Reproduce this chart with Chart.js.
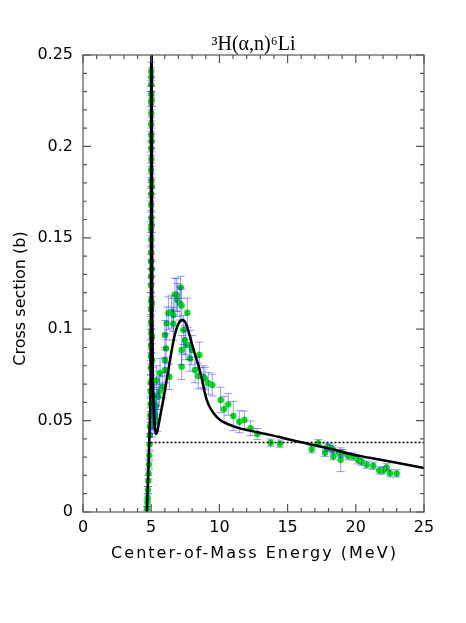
<!DOCTYPE html>
<html>
<head>
<meta charset="utf-8">
<script src="https://cdn.jsdelivr.net/npm/chart.js@4.4.1/dist/chart.umd.min.js"></script>
<style>
  html, body { margin: 0; padding: 0; background: #fff; }
  #wrap { width: 466px; height: 623px; }
</style>
</head>
<body>
<div id="wrap"><canvas id="chartCross"></canvas></div>
<script>
// tick values and labels
const xTicks = [0, 5, 10, 15, 20, 25];
const xTickLabels = ['0', '5', '10', '15', '20', '25'];
const yTicks = [0, 0.05, 0.1, 0.15, 0.2, 0.25];
const yTickLabels = ['0', '0.05', '0.1', '0.15', '0.2', '0.25'];

// measured cross sections: energy (MeV), sigma (b), error (b)
const measE = [
  4.70, 4.72, 4.74, 4.76, 4.79, 4.81, 4.83, 4.86, 4.88, 4.90, 4.92, 4.93, 4.95, 4.96, 4.97,
  4.97, 4.98, 4.98, 4.99, 4.98, 4.99, 5.00, 4.99, 5.00, 4.99, 5.00, 5.00, 4.99, 5.01, 5.00,
  5.00, 5.01, 5.00, 5.01, 5.00, 5.01, 5.00, 5.01, 5.00, 5.01, 5.00, 5.01, 5.00,
  5.03, 5.03, 5.04, 5.03, 5.04, 5.05, 5.06, 5.07, 5.08, 5.10, 5.12, 5.15, 5.18, 5.22,
  5.05, 5.10, 5.14, 5.20, 5.25, 5.30, 5.35, 5.40, 5.45, 5.52, 5.60, 5.65,
  5.84, 6.01, 6.01, 6.09, 6.01, 6.13, 6.33, 6.26, 6.50, 6.62, 6.62, 6.74, 6.87, 6.92, 7.11,
  7.16, 7.23, 7.36, 7.48, 7.23, 7.23, 7.55, 7.65, 7.84, 7.84, 7.97, 8.21, 8.45, 8.53, 8.82,
  8.94, 9.19, 9.48, 10.09, 10.34, 10.65, 11.02, 11.46, 11.83, 12.29, 12.78, 13.76, 14.44,
  16.77, 17.25, 17.74, 17.91, 18.10, 18.31, 18.35, 18.79, 18.89, 19.04, 19.45, 19.82, 20.18,
  20.43, 20.80, 21.28, 21.72, 22.02, 22.26, 22.51, 23.00
];
const measS = [
  0.002, 0.005, 0.008, 0.012, 0.017, 0.021, 0.026, 0.031, 0.037, 0.042, 0.047, 0.053, 0.059, 0.066, 0.071,
  0.079, 0.085, 0.091, 0.098, 0.104, 0.111, 0.116, 0.124, 0.129, 0.137, 0.142, 0.149, 0.155, 0.161, 0.168,
  0.174, 0.181, 0.187, 0.193, 0.199, 0.206, 0.212, 0.218, 0.224, 0.229, 0.234, 0.238, 0.241,
  0.226, 0.203, 0.178, 0.157, 0.133, 0.114, 0.096, 0.083, 0.072, 0.064, 0.058, 0.054, 0.051, 0.049,
  0.047, 0.052, 0.060, 0.056, 0.062, 0.053, 0.058, 0.072, 0.050, 0.063, 0.066, 0.076,
  0.0685, 0.0777, 0.0831, 0.0895, 0.0968, 0.1032, 0.074, 0.1087, 0.1096, 0.1078, 0.103, 0.119, 0.1187, 0.116, 0.114,
  0.1229, 0.113, 0.0996, 0.094, 0.0886, 0.0795, 0.0913, 0.109, 0.0914, 0.084, 0.0886, 0.0777, 0.0744, 0.0859, 0.074,
  0.0731, 0.0704, 0.0695, 0.0613, 0.0563, 0.0589, 0.0525, 0.0494, 0.0503, 0.0458, 0.0427, 0.0379, 0.0374,
  0.0343, 0.0376, 0.0324, 0.0354, 0.0352, 0.0343, 0.0305, 0.0321, 0.0286, 0.0321, 0.0306, 0.0303, 0.0283,
  0.0275, 0.0259, 0.0253, 0.0227, 0.0228, 0.0244, 0.0212, 0.0211
];
const measErr = [
  0.001, 0.002, 0.002, 0.002, 0.003, 0.003, 0.003, 0.003, 0.004, 0.004, 0.004, 0.004, 0.004, 0.004, 0.004,
  0.004, 0.004, 0.004, 0.004, 0.004, 0.004, 0.004, 0.004, 0.004, 0.004, 0.004, 0.004, 0.004, 0.004, 0.004,
  0.004, 0.004, 0.004, 0.004, 0.004, 0.004, 0.004, 0.004, 0.004, 0.004, 0.004, 0.005, 0.005,
  0.004, 0.004, 0.004, 0.004, 0.004, 0.004, 0.004, 0.004, 0.005, 0.005, 0.005, 0.006, 0.006, 0.006,
  0.006, 0.007, 0.008, 0.007, 0.008, 0.007, 0.007, 0.008, 0.006, 0.007, 0.008, 0.008,
  0.006, 0.007, 0.007, 0.008, 0.008, 0.009, 0.007, 0.009, 0.009, 0.009, 0.009, 0.009, 0.009, 0.009, 0.009,
  0.006, 0.009, 0.008, 0.008, 0.008, 0.007, 0.008, 0.008, 0.008, 0.007, 0.008, 0.007, 0.007, 0.007, 0.006,
  0.006, 0.006, 0.006, 0.007, 0.007, 0.006, 0.008, 0.006, 0.005, 0.004, 0.003, 0.002, 0.002,
  0.002, 0.002, 0.002, 0.002, 0.002, 0.002, 0.002, 0.002, 0.0065, 0.002, 0.002, 0.002, 0.002,
  0.002, 0.002, 0.002, 0.002, 0.002, 0.002, 0.002, 0.002
];

// fitted curve
const fitE = [4.68, 4.80, 4.90, 4.96, 4.98, 4.99, 5.00, 5.02, 5.04, 5.06, 5.08, 5.12, 5.18, 5.25, 5.33,
  5.42, 5.55, 5.70, 5.90, 6.13, 6.40, 6.70, 7.00, 7.30, 7.55, 7.80, 8.10, 8.58, 9.07, 9.80,
  11.0, 12.24, 13.5, 14.4, 15.2, 16.4, 18.0, 19.6, 21.0, 23.0, 25.0];
const fitS = [0, 0.025, 0.05, 0.075, 0.12, 0.19, 0.25, 0.265, 0.25, 0.16, 0.11, 0.075, 0.058, 0.048, 0.0427,
  0.0435, 0.048, 0.054, 0.062, 0.072, 0.084, 0.096, 0.103, 0.105, 0.103, 0.097, 0.089, 0.077, 0.0613, 0.052,
  0.047, 0.0445, 0.0425, 0.041, 0.0395, 0.0375, 0.0349, 0.0317, 0.0297, 0.0269, 0.024];

// constant level
const flatE = [4.95, 25];
const flatS = [0.038, 0.038];

const toPts = (xs, ys) => xs.map((v, i) => ({ x: v, y: ys[i] }));

const errorBars = {
  id: 'errorBars',
  afterDatasetDraw(chart, args) {
    if (args.index !== 1) return;
    const { ctx, scales: { x, y } } = chart;
    ctx.save();
    ctx.strokeStyle = 'rgba(30, 30, 255, 0.45)';
    ctx.lineWidth = 1;
    measE.forEach((e, i) => {
      const px = x.getPixelForValue(e);
      const t = y.getPixelForValue(measS[i] + measErr[i]);
      const b = y.getPixelForValue(measS[i] - measErr[i]);
      ctx.beginPath();
      ctx.moveTo(px, t); ctx.lineTo(px, b);
      ctx.moveTo(px - 4, t); ctx.lineTo(px + 4, t);
      ctx.moveTo(px - 4, b); ctx.lineTo(px + 4, b);
      ctx.stroke();
    });
    ctx.restore();
  }
};

const frameTicks = {
  id: 'frameTicks',
  afterDraw(chart) {
    const { ctx, chartArea: a, scales: { x, y } } = chart;
    ctx.save();
    ctx.strokeStyle = '#555';
    ctx.lineWidth = 1.2;
    ctx.strokeRect(a.left, a.top, a.right - a.left, a.bottom - a.top);
    ctx.beginPath();
    for (let i = 0; i <= 25; i++) {
      const px = x.getPixelForValue(i);
      const len = i % 5 === 0 ? 8 : 4;
      ctx.moveTo(px, a.bottom); ctx.lineTo(px, a.bottom - len);
      ctx.moveTo(px, a.top); ctx.lineTo(px, a.top + len);
    }
    for (let i = 0; i <= 25; i++) {
      const py = y.getPixelForValue(i / 100);
      const len = i % 5 === 0 ? 8 : 4;
      ctx.moveTo(a.left, py); ctx.lineTo(a.left + len, py);
      ctx.moveTo(a.right, py); ctx.lineTo(a.right - len, py);
    }
    ctx.stroke();

    // title and axis titles
    const cx = (a.left + a.right) / 2;
    ctx.fillStyle = '#000';
    ctx.textAlign = 'center';
    ctx.textBaseline = 'alphabetic';
    ctx.font = '20px "Liberation Serif"';
    ctx.fillText('³H(α,n)⁶Li', cx, a.top - 5);
    ctx.font = '16px "DejaVu Sans"';
    ctx.letterSpacing = '2px';
    ctx.fillText('Center-of-Mass Energy (MeV)', cx + 1, a.bottom + 46);
    ctx.letterSpacing = '0px';
    ctx.translate(25, (a.top + a.bottom) / 2 + 15);
    ctx.rotate(-Math.PI / 2);
    ctx.fillText('Cross section (b)', 0, 0);
    ctx.restore();
  }
};

new Chart(document.getElementById('chartCross'), {
  type: 'scatter',
  data: {
    datasets: [{
      label: 'fit',
      data: toPts(fitE, fitS),
      showLine: true,
      borderColor: '#000',
      borderWidth: 2.5,
      pointRadius: 0,
      cubicInterpolationMode: 'monotone',
      order: 0
    }, {
      label: 'data',
      data: toPts(measE, measS),
      pointRadius: 3.2,
      backgroundColor: '#00e600',
      borderWidth: 0,
      order: 2
    }, {
      label: 'constant',
      data: toPts(flatE, flatS),
      showLine: true,
      borderColor: '#000',
      borderWidth: 1.5,
      borderDash: [2, 2],
      pointRadius: 0,
      order: 1
    }]
  },
  options: {
    responsive: true,
    maintainAspectRatio: false,
    animation: false,
    devicePixelRatio: 1,
    layout: { padding: { left: 0, right: 42, top: 55, bottom: 0 } },
    plugins: {
      legend: { display: false },
      tooltip: { enabled: false },
      title: { display: false }
    },
    scales: {
      x: {
        type: 'linear',
        min: 0,
        max: 25,
        afterBuildTicks: s => { s.ticks = xTicks.map(v => ({ value: v })); },
        afterFit: s => { s.height = 111; },
        grid: { display: false, drawTicks: false },
        border: { display: false },
        ticks: {
          color: '#000',
          padding: 6,
          autoSkip: false,
          maxRotation: 0,
          callback: (v, i) => xTickLabels[i],
          font: { family: '"DejaVu Sans"', size: 16 }
        }
      },
      y: {
        type: 'linear',
        min: 0,
        max: 0.25,
        afterBuildTicks: s => { s.ticks = yTicks.map(v => ({ value: v })); },
        afterFit: s => { s.width = 83; },
        grid: { display: false, drawTicks: false },
        border: { display: false },
        ticks: {
          color: '#000',
          padding: 10,
          autoSkip: false,
          callback: (v, i) => yTickLabels[i],
          font: { family: '"DejaVu Sans"', size: 16 }
        }
      }
    }
  },
  plugins: [errorBars, frameTicks]
});
</script>
</body>
</html>
